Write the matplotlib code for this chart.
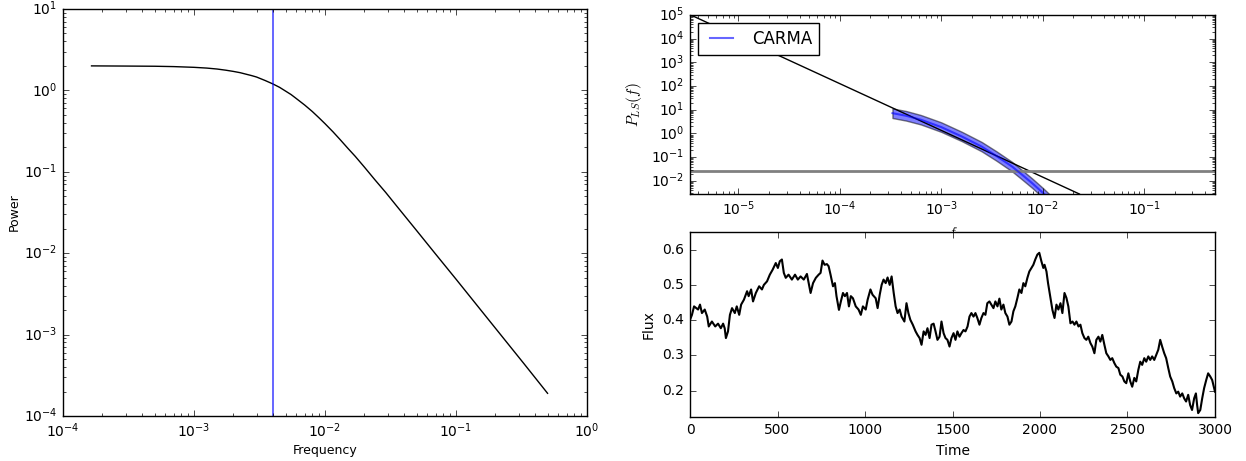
import numpy as np
import matplotlib
matplotlib.use("Agg")
import matplotlib.pyplot as plt

plt.style.use("classic")
plt.rcParams["font.size"] = 10

# ---- left panel: model power spectrum ----
freq_model = [1.65e-4, 3e-4, 5e-4, 7e-4, 1e-3, 1.25e-3, 1.5e-3, 1.75e-3,
              2e-3, 2.25e-3, 2.5e-3, 2.75e-3, 3e-3, 3.5e-3, 4e-3, 4.5e-3,
              5e-3, 5.5e-3, 6e-3, 7e-3, 8e-3, 9e-3, 1e-2, 1.15e-2, 1.3e-2,
              1.5e-2, 1.7e-2, 2e-2, 2.4e-2, 2.9e-2, 3.5e-2, 5e-2, 6.9e-2,
              0.1, 0.15, 0.22, 0.33, 0.5]
power_model = [2.0, 1.99, 1.98, 1.96, 1.92, 1.88, 1.83, 1.77,
               1.71, 1.65, 1.58, 1.52, 1.46, 1.32, 1.2, 1.09,
               0.98, 0.89, 0.80, 0.66, 0.55, 0.46, 0.39, 0.31, 0.25,
               0.193, 0.155, 0.114, 0.080, 0.056, 0.0385, 0.019, 0.010,
               0.0048, 0.00213, 0.00099, 0.00044, 0.00019]
f_break = 4e-3

# ---- top right: periodogram ----
pl_freq = [3.3e-6, 2.3e-2]
pl_power = [1.05e5, 2.8e-3]
noise_level = 0.027
carma_freq = [3.3e-4, 4.5e-4, 6.3e-4, 1.0e-3, 1.6e-3, 2.5e-3, 3.5e-3,
              5.0e-3, 6.3e-3, 7.9e-3, 1.0e-2, 1.15e-2]
carma_mid = [7.2, 5.6, 3.8, 1.86, 0.74, 0.28, 0.112, 0.040, 0.0178,
             0.0079, 0.0032, 0.0018]
carma_lo = [4.5, 3.5, 2.4, 1.17, 0.47, 0.177, 0.071, 0.025, 0.0112,
            0.0050, 0.0020, 0.00114]
carma_hi = [11.4, 8.9, 6.0, 2.95, 1.17, 0.44, 0.177, 0.063, 0.028,
            0.0125, 0.0051, 0.0029]

# ---- bottom right: light curve ----
time = [0, 11, 23, 46, 57, 68, 84, 98, 107, 125, 144, 160, 176, 189, 198,
        205, 217, 228, 240, 256, 267, 281, 292, 308, 326, 335, 349, 360,
        376, 395, 411, 422, 440, 456, 472, 490, 502, 513, 525, 536, 547,
        563, 582, 600, 616, 632, 650, 668, 678, 689, 703, 719, 735, 746,
        757, 769, 782, 792, 803, 817, 828, 837, 851, 862, 874, 885, 897,
        908, 919, 931, 947, 963, 976, 988, 1004, 1015, 1031, 1043, 1061,
        1072, 1084, 1095, 1106, 1118, 1129, 1141, 1152, 1164, 1175, 1186,
        1198, 1209, 1225, 1237, 1248, 1259, 1273, 1289, 1300, 1312, 1323,
        1335, 1346, 1357, 1369, 1380, 1392, 1403, 1414, 1426, 1437, 1449,
        1460, 1471, 1483, 1494, 1506, 1517, 1528, 1540, 1551, 1563, 1574,
        1586, 1597, 1608, 1620, 1631, 1642, 1654, 1665, 1677, 1688, 1699,
        1711, 1722, 1734, 1745, 1757, 1768, 1779, 1791, 1802, 1814, 1825,
        1837, 1848, 1859, 1871, 1882, 1894, 1905, 1916, 1928, 1939, 1951,
        1962, 1973, 1985, 1996, 2008, 2019, 2026, 2037, 2046, 2060, 2071,
        2083, 2094, 2105, 2117, 2128, 2140, 2151, 2162, 2174, 2186, 2197,
        2208, 2220, 2231, 2242, 2254, 2265, 2276, 2288, 2299, 2311, 2322,
        2334, 2345, 2356, 2368, 2379, 2391, 2402, 2413, 2425, 2436, 2448,
        2459, 2471, 2482, 2493, 2505, 2516, 2527, 2539, 2550, 2562, 2573,
        2584, 2596, 2607, 2619, 2630, 2641, 2653, 2664, 2676, 2687, 2698,
        2710, 2721, 2733, 2744, 2756, 2767, 2779, 2790, 2801, 2813, 2824,
        2835, 2847, 2858, 2869, 2881, 2891, 2898, 2904, 2916, 2927, 2938,
        2950, 2961, 2973, 2984, 2995, 3000]
flux = [0.401, 0.415, 0.439, 0.43, 0.444, 0.42, 0.43, 0.41, 0.382, 0.396,
        0.382, 0.39, 0.377, 0.39, 0.377, 0.349, 0.368, 0.415, 0.434, 0.42,
        0.439, 0.415, 0.444, 0.458, 0.482, 0.468, 0.487, 0.453, 0.477,
        0.496, 0.487, 0.5, 0.51, 0.529, 0.543, 0.562, 0.548, 0.567, 0.572,
        0.534, 0.52, 0.529, 0.515, 0.529, 0.515, 0.524, 0.515, 0.531,
        0.505, 0.477, 0.505, 0.52, 0.529, 0.534, 0.569, 0.557, 0.559,
        0.553, 0.529, 0.496, 0.505, 0.468, 0.429, 0.453, 0.477, 0.468,
        0.477, 0.439, 0.468, 0.462, 0.439, 0.43, 0.415, 0.439, 0.43,
        0.458, 0.487, 0.472, 0.462, 0.434, 0.472, 0.5, 0.515, 0.505,
        0.521, 0.5, 0.524, 0.477, 0.439, 0.42, 0.43, 0.41, 0.396, 0.448,
        0.42, 0.401, 0.387, 0.368, 0.358, 0.349, 0.33, 0.368, 0.358,
        0.377, 0.349, 0.387, 0.39, 0.368, 0.344, 0.353, 0.396, 0.363,
        0.349, 0.344, 0.325, 0.349, 0.363, 0.344, 0.368, 0.353, 0.363,
        0.372, 0.368, 0.382, 0.41, 0.42, 0.41, 0.42, 0.406, 0.387, 0.406,
        0.42, 0.415, 0.448, 0.453, 0.444, 0.434, 0.453, 0.439, 0.461,
        0.43, 0.444, 0.42, 0.41, 0.387, 0.396, 0.425, 0.439, 0.463, 0.487,
        0.477, 0.505, 0.496, 0.52, 0.538, 0.548, 0.557, 0.572, 0.586,
        0.591, 0.567, 0.548, 0.557, 0.538, 0.505, 0.463, 0.429, 0.406,
        0.444, 0.43, 0.448, 0.42, 0.477, 0.463, 0.439, 0.391, 0.396,
        0.387, 0.396, 0.382, 0.387, 0.363, 0.349, 0.344, 0.353, 0.335,
        0.325, 0.306, 0.344, 0.353, 0.339, 0.358, 0.33, 0.306, 0.297,
        0.287, 0.292, 0.278, 0.268, 0.264, 0.245, 0.24, 0.226, 0.221,
        0.249, 0.226, 0.211, 0.236, 0.226, 0.259, 0.282, 0.273, 0.292,
        0.282, 0.297, 0.287, 0.297, 0.287, 0.301, 0.316, 0.344, 0.325,
        0.306, 0.292, 0.264, 0.24, 0.226, 0.207, 0.192, 0.197, 0.183,
        0.192, 0.178, 0.169, 0.188, 0.159, 0.145, 0.178, 0.192, 0.159,
        0.136, 0.145, 0.178, 0.207, 0.23, 0.249, 0.24, 0.23, 0.207, 0.197]

fig = plt.figure(figsize=(12.46, 4.61), dpi=100, facecolor="white")

# left panel
ax1 = fig.add_axes([0.0506, 0.0976, 0.4205, 0.8829])
ax1.loglog(freq_model, power_model, color="k", lw=1)
ax1.axvline(f_break, color="b", alpha=0.7, lw=1.2)
ax1.set_xlim(1e-4, 1)
ax1.set_ylim(1e-4, 10)
ax1.set_xlabel("Frequency", fontsize=9, labelpad=3)
ax1.set_ylabel("Power", fontsize=9, labelpad=2)

# top right panel
ax2 = fig.add_axes([0.5538, 0.5792, 0.4213, 0.3883])
ax2.loglog(pl_freq, pl_power, color="k", lw=1)
ax2.axhline(noise_level, color="grey", lw=2)
ax2.plot(carma_freq, carma_mid, color="b", lw=1.5, alpha=0.6, label="CARMA")
ax2.fill_between(carma_freq, carma_lo, carma_hi, facecolor="b",
                 edgecolor="k", lw=1, alpha=0.5)
ax2.set_xlim(3.33e-6, 0.5)
ax2.set_ylim(2.8e-3, 1e5)
ax2.set_yticks([1e-2, 1e-1, 1e0, 1e1, 1e2, 1e3, 1e4, 1e5])
ax2.set_xlabel("$f$")
ax2.set_ylabel("$P_{LS}(f)$", fontsize=11)
ax2.legend(loc="upper left", fontsize=12)

# bottom right panel
ax3 = fig.add_axes([0.5538, 0.0954, 0.4213, 0.4013])
ax3.plot(time, flux, color="k", lw=1.5)
ax3.set_xlim(0, 3000)
ax3.set_ylim(0.125, 0.65)
ax3.set_xlabel("Time")
ax3.set_ylabel("Flux")

fig.savefig("out.png", dpi=100, facecolor="white")
